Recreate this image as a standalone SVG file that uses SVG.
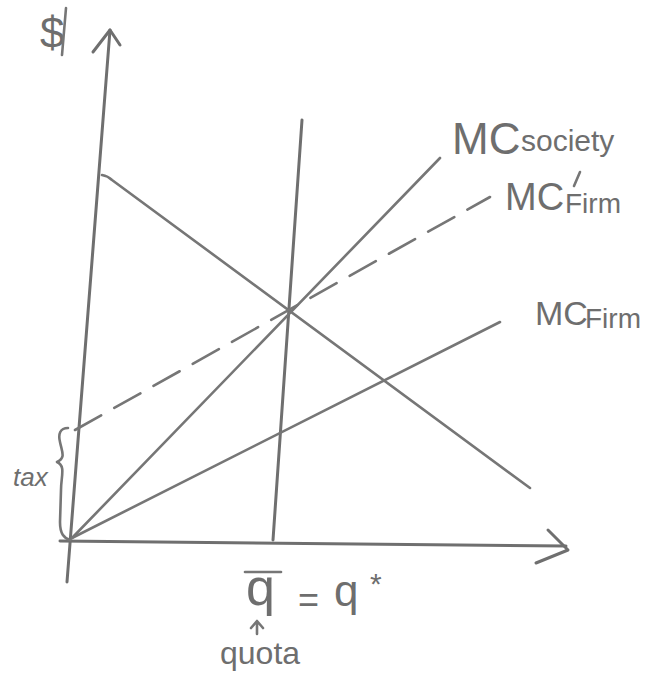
<svg xmlns="http://www.w3.org/2000/svg" width="652" height="681" viewBox="0 0 652 681">
<style>
.ln{stroke:#767676;stroke-width:2.6;fill:none;stroke-linecap:round;stroke-linejoin:round}
.th{stroke:#6f6f6f;stroke-width:3;fill:none;stroke-linecap:round;stroke-linejoin:round}
.t{fill:#6e6e6e;font-family:"Liberation Sans",Arial,sans-serif}
</style>
<rect width="652" height="681" fill="#fff"/>
<g id="axes">
<path class="th" d="M67,582 L110,30"/>
<path class="th" d="M93,52 L110,30 L120,45"/>
<path class="th" d="M60,541 L566,546"/>
<path class="th" d="M548,530 L568,550 L536,563"/>
</g>
<g id="connectors">
<path id="demand" class="ln" d="M102,175 Q108,176 112,180 L530,488"/>
<path id="quota-line" class="th" d="M302,120 L273,540"/>
<path id="mc-society" class="ln" d="M72,538 L440,158"/>
<path id="mc-firm" class="ln" d="M72,538 L500,322"/>
<path id="mc-firm-prime" class="ln" d="M75,430 L490,197" stroke-dasharray="30 15"/>
<path id="tax-brace" class="ln" d="M68,428 C60,428 58,434 60,442 C62,452 66,458 57,462 C66,466 61,476 61,490 L60,522 C60,534 64,538 70,540"/>
<path id="quota-arrow" class="ln" d="M257,634 L257,622 M251,628 L257,621 L263,628"/>
<path id="qbar" class="ln" d="M245,572 L281,572"/>
</g>
<g id="labels">
<text class="t" x="40" y="48" font-size="44">$</text>
<path class="ln" d="M66,8 L62,55"/>
<text class="t" x="452" y="154" font-size="44">MC</text>
<text class="t" x="521" y="151" font-size="30">society</text>
<text class="t" x="505" y="210" font-size="38">MC</text>
<path class="ln" d="M580,172 L574,186"/>
<text class="t" x="565" y="213" font-size="28">Firm</text>
<text class="t" x="535" y="325" font-size="34">MC</text>
<text class="t" x="585" y="328" font-size="28">Firm</text>
<text class="t" x="13" y="486" font-size="26" font-style="italic">tax</text>
<text class="t" x="246" y="605" font-size="52">q</text>
<text class="t" x="298" y="612" font-size="36">=</text>
<text class="t" x="334" y="606" font-size="44">q</text>
<text class="t" x="370" y="594" font-size="30">*</text>
<text class="t" x="220" y="664" font-size="32">quota</text>
</g>
</svg>
